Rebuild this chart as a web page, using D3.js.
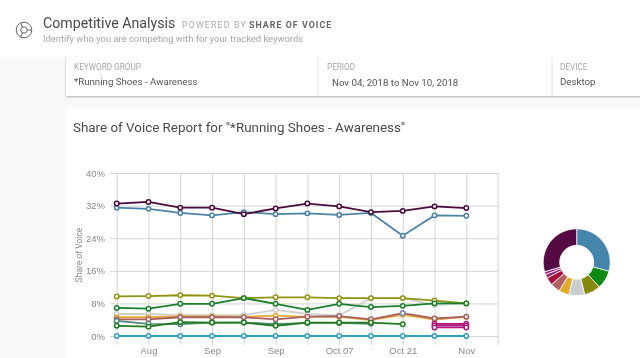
<!DOCTYPE html>
<html>
<head>
<meta charset="utf-8">
<script src="https://cdn.jsdelivr.net/npm/d3@7"></script>
<style>
html, body { margin: 0; padding: 0; background: #fff; overflow: hidden; }
svg { display: block; font-family: Roboto, sans-serif; filter: blur(0.3px); }
.grid-axis .domain { display: none; }
.grid-axis line { stroke: #d4d4d4; stroke-width: 1; }
.grid-axis text { fill: #8a8a8a; font-size: 9.5px; }
</style>
</head>
<body>
<svg id="chart" width="640" height="358"></svg>
<script>
var weeks = ['Aug 19', 'Aug 26', 'Sep 02', 'Sep 09', 'Sep 16', 'Sep 23', 'Sep 30', 'Oct 07', 'Oct 14', 'Oct 21', 'Oct 28', 'Nov 04'];
var labelled = ['Aug 26', 'Sep 09', 'Sep 23', 'Oct 07', 'Oct 21', 'Nov 04'];
var yTicks = [0, 8, 16, 24, 32, 40];

var grey = [5.4, 5.4, 5.1, 5.1, 5.1, 6.4, 5.4, 5.0, 9.3, 9.3, 7.6, 8.0];
var gold = [4.6, 4.6, 4.8, 4.8, 4.7, 5.0, 4.7, 4.7, 3.9, 5.2, 4.0, 4.7];
var rose = [4.1, 4.1, 4.6, 4.6, 4.6, 4.1, 4.75, 4.9, 4.1, 5.6, 4.3, 4.75];
var slate = [3.7, 3.0, 2.9, 3.3, 3.3, 2.9, 3.2, 3.2, 3.0, null, null, null];
var forest = [2.5, 2.3, 3.4, 3.3, 3.3, 2.5, 3.3, 3.3, 3.3, 2.9, null, null];
var blue = [31.5, 31.2, 30.2, 29.6, 30.4, 29.9, 30.1, 29.7, 30.2, 24.6, 29.6, 29.5];
var maroon = [32.5, 32.9, 31.5, 31.5, 29.9, 31.3, 32.5, 31.8, 30.4, 30.7, 31.8, 31.4];
var olive = [9.7, 9.8, 10, 9.9, 9.3, 9.5, 9.5, 9.3, 9.3, 9.3, 8.7, 8.0];
var green = [6.9, 6.7, 7.9, 7.9, 9.3, 7.9, 6.4, 7.9, 7.1, 7.4, 8.0, 8.0];
var cyan = [0, 0, 0, 0, 0, 0, 0, 0, 0, 0, 0, 0];
var periwinkle = [null, null, null, null, null, null, null, null, null, 5.6, null, null];
var magentaA = [null, null, null, null, null, null, null, null, null, null, 3.0, 3.0];
var magentaB = [null, null, null, null, null, null, null, null, null, null, 2.6, 2.6];
var magentaC = [null, null, null, null, null, null, null, null, null, null, 2.1, 2.1];

var seriesValues = [grey, gold, rose, slate, forest, cyan, periwinkle, olive, green, blue, maroon, magentaA, magentaB, magentaC];
var seriesColors = ['#cfcfcf', '#e8a93a', '#a8605f', '#4f8a78', '#1f7a1f', '#2f9fc0', '#6f8fc4', '#8f9410', '#187f2a', '#4b83a8', '#4a0a3c', '#b0157f', '#b0157f', '#b0157f'];

var donutShares = [29.5, 8.9, 8, 7.6, 5.1, 4.7, 3.8, 1.8, 1.4, 29.7];
var donutColors = ['#4584ab', '#0d8a12', '#87880e', '#c9cdcf', '#e3ab2e', '#b1605f', '#a80f3c', '#8e1f6e', '#a3157c', '#560a44'];

var svg = d3.select('#chart');

// page background, header, filter card, report card
var defs = svg.append('defs');
var shadow = defs.append('filter').attr('id', 'card-shadow').attr('y', '-20%').attr('height', '150%');
shadow.append('feDropShadow').attr('dx', 0).attr('dy', 1).attr('stdDeviation', 1.2).attr('flood-color', '#000').attr('flood-opacity', 0.3);

svg.append('rect').attr('x', 0).attr('y', 57).attr('width', 640).attr('height', 301).attr('fill', '#f8f8f8');
svg.append('rect').attr('x', 66).attr('y', 108).attr('width', 574).attr('height', 250).attr('fill', '#fff');
svg.append('rect').attr('x', 66).attr('y', 56).attr('width', 590).attr('height', 40).attr('fill', '#fff').attr('filter', 'url(#card-shadow)');
svg.append('rect').attr('x', 0).attr('y', 0).attr('width', 640).attr('height', 57).attr('fill', '#fff');

[318, 552].forEach(function(d) {
  svg.append('line').attr('x1', d).attr('x2', d).attr('y1', 57).attr('y2', 96).attr('stroke', '#e2e2e2');
});

var icon = svg.append('g').attr('transform', 'translate(24,30)').attr('fill', 'none').attr('stroke', '#666').attr('stroke-width', 1);
icon.append('circle').attr('r', 7.8);
icon.append('circle').attr('r', 3.2);
icon.append('path').attr('d', 'M-1.6,-2.8L-3.4,-7M3.2,0L7.8,0M-1.6,2.8L-3.4,7');

function label(x, y, text, size, color, weight, spacing) {
  return svg.append('text').attr('x', x).attr('y', y).text(text)
    .attr('font-size', size).attr('fill', color)
    .attr('font-weight', weight || 400).attr('letter-spacing', spacing || 0);
}
label(43, 28, 'Competitive Analysis', 14.2, '#4a4a4a');
label(182, 28, 'POWERED BY', 8.8, '#a8a8a8', 400, 1.15);
label(249, 28, 'SHARE OF VOICE', 8.8, '#666', 700, 1.05);
label(43, 42, 'Identify who you are competing with for your tracked keywords', 9.4, '#a6a6a6');
label(74, 70, 'KEYWORD GROUP', 8.2, '#a8a8a8');
label(74, 85, '*Running Shoes - Awareness', 9.7, '#555');
label(327, 70, 'PERIOD', 8.2, '#a8a8a8');
label(332, 86, 'Nov 04, 2018 to Nov 10, 2018', 9.7, '#555');
label(560, 70, 'DEVICE', 8.2, '#a8a8a8');
label(560, 85, 'Desktop', 9.7, '#555');
label(73, 132, 'Share of Voice Report for "*Running Shoes - Awareness"', 13.4, '#4a4a4a');

// line chart
var x = d3.scalePoint().domain(weeks).range([116.7, 466.3]);
var y = d3.scaleLinear().domain([0, 40]).range([336, 173]);
var rightEdge = x.range()[1] + x.step();

var yAxis = d3.axisLeft(y).tickValues(yTicks).tickSize(rightEdge - 110)
  .tickFormat(function(d) { return d + '%'; });
svg.append('g').attr('class', 'grid-axis').attr('transform', 'translate(' + rightEdge + ',0)').call(yAxis)
  .selectAll('text').attr('x', -(rightEdge - 105));

var xAxis = d3.axisBottom(x).tickSize(172).tickFormat(function() { return ''; });
var xg = svg.append('g').attr('class', 'grid-axis').attr('transform', 'translate(0,173)').call(xAxis);
xg.selectAll('.tick').each(function(d) {
  if (labelled.indexOf(d) < 0) return;
  var parts = d.split(' ');
  var t = d3.select(this).select('text').attr('y', 181).attr('dy', 0);
  if (parts[0] === 'Oct') {
    t.text(d);
  } else {
    t.text(parts[0]);
    t.append('tspan').attr('x', 0).attr('dy', 11).text(parts[1]);
  }
});
svg.append('line').attr('x1', rightEdge).attr('x2', rightEdge).attr('y1', 173).attr('y2', 345).attr('stroke', '#d4d4d4');

svg.append('text').attr('transform', 'translate(82,255) rotate(-90)').attr('text-anchor', 'middle')
  .attr('font-size', 8.5).attr('fill', '#8a8a8a').text('Share of Voice');

var line = d3.line()
  .defined(function(d) { return d != null; })
  .x(function(d, i) { return x(weeks[i]); })
  .y(function(d) { return y(d); });

seriesValues.forEach(function(values, s) {
  svg.append('path').attr('d', line(values)).attr('fill', 'none')
    .attr('stroke', seriesColors[s]).attr('stroke-width', 1.8);
  svg.append('g').selectAll('circle')
    .data(values.map(function(v, i) { return { v: v, week: weeks[i] }; }).filter(function(d) { return d.v != null; }))
    .enter().append('circle')
    .attr('cx', function(d) { return x(d.week); })
    .attr('cy', function(d) { return y(d.v); })
    .attr('r', 2.2)
    .attr('fill', '#fff')
    .attr('stroke', seriesColors[s])
    .attr('stroke-width', 1.5);
});

// donut
var pie = d3.pie().sort(null);
var arc = d3.arc().innerRadius(17).outerRadius(33.5);
svg.append('g').attr('transform', 'translate(576.7,262.3)').selectAll('path')
  .data(pie(donutShares))
  .enter().append('path')
  .attr('d', arc)
  .attr('fill', function(d, i) { return donutColors[i]; })
  .attr('stroke', '#fff').attr('stroke-width', 0.8);
</script>
</body>
</html>
